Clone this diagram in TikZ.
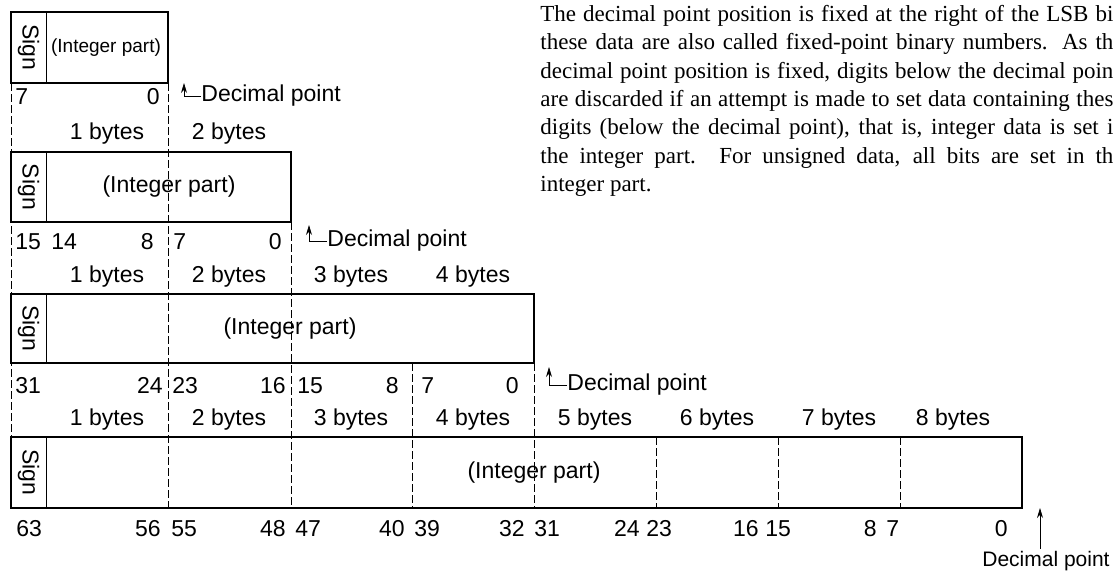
\documentclass[tikz,border=0pt]{standalone}
\usepackage{fontspec}
\setmainfont{Liberation Serif}
\setsansfont{Liberation Sans}
\usetikzlibrary{arrows.meta}

\tikzset{
    field/.style={line width=1.2pt},
    bytesep/.style={line width=0.5pt, dash pattern=on 4pt off 1.5pt},
    lbl/.style={font=\sffamily\fontsize{11.5}{13}\selectfont, inner sep=0pt},
    bitl/.style={lbl, anchor=base west},
    bitr/.style={lbl, anchor=base east},
    dpoint/.style={lbl, anchor=west},
}

\begin{document}
\begin{tikzpicture}[x=0.5pt, y=-0.5pt, >={Stealth[length=5pt, width=3pt]}]
    \useasboundingbox (0,0) rectangle (1113,573);

    % Dashed byte borders
    \draw[bytesep] (11,83) -- (11,437);
    \draw[bytesep] (168,83) -- (168,508);
    \draw[bytesep] (291,222) -- (291,508);
    \draw[bytesep] (412,363) -- (412,508);
    \draw[bytesep] (534,363) -- (534,508);
    \draw[bytesep] (656,437) -- (656,508);
    \draw[bytesep] (778,437) -- (778,508);
    \draw[bytesep] (900,437) -- (900,508);

    % 1 byte
    \draw[field] (11,12) rectangle (168,83);
    \draw[thin] (46,12) -- (46,83);
    \node[lbl, rotate=-90] (sign1) at (28.5,47.5) {Sign};
    \node[lbl, font=\sffamily\fontsize{9.5}{11}\selectfont] (int1) at (106,47.5) {(Integer part)};
    \node[bitl] (b1a) at (15,104) {7};
    \node[bitr] (b1b) at (160,104) {0};
    \node[dpoint] (dp1) at (201,96) {Decimal point};
    \coordinate (dp1tip) at (184,83);
    \draw[->, thin] (dp1.west) -| (dp1tip);

    \node[lbl] (n1a) at (107,134) {1 bytes};
    \node[lbl] (n1b) at (229,134) {2 bytes};

    % 2 bytes
    \draw[field] (11,152) rectangle (291,222);
    \draw[thin] (46,152) -- (46,222);
    \node[lbl, rotate=-90] (sign2) at (28.5,187) {Sign};
    \node[lbl] (int2) at (169,187) {(Integer part)};
    \node[bitl] (b2a) at (15,249) {15};
    \node[bitl] (b2b) at (51,249) {14};
    \node[bitr] (b2c) at (154,249) {8};
    \node[bitl] (b2d) at (173,249) {7};
    \node[bitr] (b2e) at (282,249) {0};
    \node[dpoint] (dp2) at (327,241) {Decimal point};
    \coordinate (dp2tip) at (309,225);
    \draw[->, thin] (dp2.west) -| (dp2tip);

    \node[lbl] (n2a) at (107,277) {1 bytes};
    \node[lbl] (n2b) at (229,277) {2 bytes};
    \node[lbl] (n2c) at (351,277) {3 bytes};
    \node[lbl] (n2d) at (473,277) {4 bytes};

    % 4 bytes
    \draw[field] (11,294) rectangle (534,363);
    \draw[thin] (46,294) -- (46,363);
    \node[lbl, rotate=-90] (sign3) at (28.5,328.5) {Sign};
    \node[lbl] (int3) at (290,328.5) {(Integer part)};
    \node[bitl] (b3a) at (15,393) {31};
    \node[bitr] (b3b) at (163,393) {24};
    \node[bitl] (b3c) at (172,393) {23};
    \node[bitr] (b3d) at (286,393) {16};
    \node[bitl] (b3e) at (297,393) {15};
    \node[bitr] (b3f) at (399,393) {8};
    \node[bitl] (b3g) at (421,393) {7};
    \node[bitr] (b3h) at (519,393) {0};
    \node[dpoint] (dp3) at (567,385) {Decimal point};
    \coordinate (dp3tip) at (549,367);
    \draw[->, thin] (dp3.west) -| (dp3tip);

    \node[lbl] (n3a) at (107,420) {1 bytes};
    \node[lbl] (n3b) at (229,420) {2 bytes};
    \node[lbl] (n3c) at (351,420) {3 bytes};
    \node[lbl] (n3d) at (473,420) {4 bytes};
    \node[lbl] (n3e) at (595,420) {5 bytes};
    \node[lbl] (n3f) at (717,420) {6 bytes};
    \node[lbl] (n3g) at (839,420) {7 bytes};
    \node[lbl] (n3h) at (953,420) {8 bytes};

    % 8 bytes
    \draw[field] (11,437) rectangle (1022,508);
    \draw[thin] (46,437) -- (46,508);
    \node[lbl, rotate=-90] (sign4) at (28.5,472.5) {Sign};
    \node[lbl] (int4) at (534,472.5) {(Integer part)};
    \node[bitl] (b4a) at (16,536) {63};
    \node[bitr] (b4b) at (161,536) {56};
    \node[bitl] (b4c) at (171,536) {55};
    \node[bitr] (b4d) at (286,536) {48};
    \node[bitl] (b4e) at (295,536) {47};
    \node[bitr] (b4f) at (405,536) {40};
    \node[bitl] (b4g) at (414,536) {39};
    \node[bitr] (b4h) at (525,536) {32};
    \node[bitl] (b4i) at (534,536) {31};
    \node[bitr] (b4j) at (640,536) {24};
    \node[bitl] (b4k) at (646,536) {23};
    \node[bitr] (b4l) at (759,536) {16};
    \node[bitl] (b4m) at (765,536) {15};
    \node[bitr] (b4n) at (877,536) {8};
    \node[bitl] (b4o) at (886,536) {7};
    \node[bitr] (b4p) at (1008,536) {0};
    \node[lbl, font=\sffamily\fontsize{10.5}{12}\selectfont] (dp4) at (1046,561) {Decimal point};
    \coordinate (dp4tip) at (1040,508);
    \draw[->, thin] ([yshift=1pt]dp4.north -| dp4tip) -- (dp4tip);

    % Note
    \node[anchor=north west, inner sep=0pt, text width=286.5pt, align=justify,
          font=\rmfamily\fontsize{11.5}{14.15}\selectfont] (note) at (540,5)
        {The decimal point position is fixed at the right of the LSB bi\linebreak
         these data are also called fixed-point binary numbers.  As th\linebreak
         decimal point position is fixed, digits below the decimal poin\linebreak
         are discarded if an attempt is made to set data containing thes\linebreak
         digits (below the decimal point), that is, integer data is set i\linebreak
         the integer part.  For unsigned data, all bits are set in th\linebreak
         integer part.};
\end{tikzpicture}
\end{document}
